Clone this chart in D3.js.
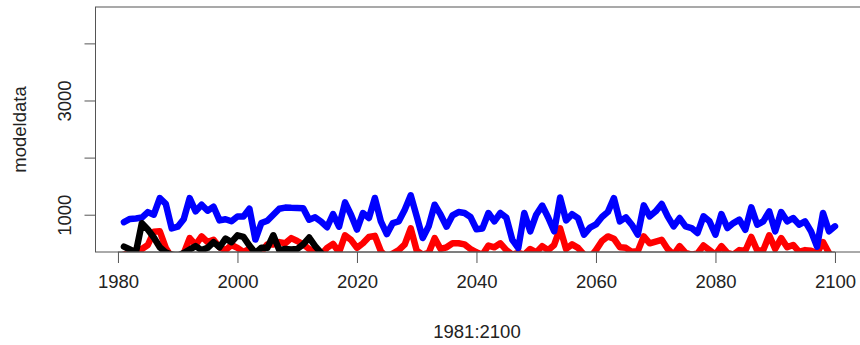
<!DOCTYPE html>
<html>
<head>
<meta charset="utf-8">
<script src="https://cdn.jsdelivr.net/npm/d3@7"></script>
<style>
  html, body { margin: 0; padding: 0; background: #fff; }
  svg { display: block; }
  text { font-family: "Liberation Sans", Arial, Helvetica, sans-serif; fill: #222; }
</style>
</head>
<body>
<svg id="chart" width="860" height="345"></svg>
<script>
// ---- data ----
const yearsStart = 1981, yearsEnd = 2100;
const years = d3.range(yearsStart, yearsEnd + 1);

const blueValues = [
  870, 925, 935, 950, 1045, 1000, 1290, 1190, 760, 790,
  920, 1290, 1060, 1175, 1070, 1140, 900, 920, 885, 970,
  970, 1105, 565, 855, 895, 1000, 1105, 1125, 1120, 1118,
  1115, 913, 954, 880, 780, 1012, 790, 1215, 1000, 740,
  1030, 942, 1293, 884, 660, 854, 884, 1088, 1339, 971,
  592, 796, 1175, 1000, 790, 990, 1047, 1030, 960, 745,
  760, 1030, 884, 1030, 950, 560, 417, 1030, 709, 1000,
  1160, 950, 709, 1300, 900, 1010, 940, 650, 775, 830,
  960, 1050, 1290, 884, 954, 825, 650, 1164, 971, 1059,
  1187, 971, 796, 942, 796, 767, 680, 971, 884, 650,
  1012, 767, 854, 913, 737, 1129, 825, 884, 1059, 709,
  1047, 884, 942, 825, 884, 709, 440, 1030, 709, 796
];

const redValues = [
  300, 330, 380, 400, 470, 700, 710, 420, 250, 200,
  320, 590, 470, 620, 520, 560, 430, 380, 470, 420,
  350, 400, 320, 350, 480, 480, 520, 500, 590, 540,
  480, 400, 330, 300, 420, 490, 340, 640, 560, 420,
  500, 610, 630, 360, 250, 320, 380, 480, 760, 370,
  300, 330, 590, 400, 430, 500, 500, 480, 400, 340,
  300, 460, 430, 500, 380, 300, 330, 300, 400, 340,
  450, 380, 470, 760, 400, 480, 420, 300, 250, 380,
  540, 620, 580, 430, 420, 350, 360, 620, 500, 530,
  560, 400, 300, 450, 330, 300, 320, 460, 380, 300,
  450, 330, 300, 380, 370, 610, 370, 380, 640, 400,
  590, 430, 470, 350, 380, 370, 330, 520, 330, 200
];

const blackYears = d3.range(1981, 2015);
const blackValues = [
  440, 390, 340, 850, 740, 600, 430, 340, 300, 280,
  330, 390, 450, 380, 420, 520, 430, 580, 520, 640,
  610, 460, 330, 420, 420, 640, 380, 400, 390, 400,
  480, 600, 450, 330
];

const xTicks = [1980, 2000, 2020, 2040, 2060, 2080, 2100];
const yTicks = [1000, 2000, 3000, 4000];
const yTickLabels = {1000: "1000", 3000: "3000"};
const xTitle = "1981:2100";
const yTitle = "modeldata";

// ---- layout ----
const svg = d3.select("#chart");
const mLeft = 95.5, mRight = 863.4, mTop = 7, mBottom = 252;
const fontSize = 18.5;

const x = d3.scaleLinear().domain([1976.24, 2104.76]).range([mLeft, mRight]);
const y = d3.scaleLinear().domain([347, 4637]).range([mBottom, mTop]);

svg.append("defs").append("clipPath").attr("id", "plotclip")
  .append("rect").attr("x", mLeft).attr("y", mTop)
  .attr("width", mRight - mLeft).attr("height", mBottom - mTop);

const plot = svg.append("g").attr("clip-path", "url(#plotclip)");

const line = d3.line().x(d => x(d[0])).y(d => y(d[1]));

function drawSeries(xs, vs, color) {
  plot.append("path")
    .datum(xs.map((yr, i) => [yr, vs[i]]))
    .attr("d", line)
    .attr("fill", "none")
    .attr("stroke", color)
    .attr("stroke-width", 6.5)
    .attr("stroke-linejoin", "round")
    .attr("stroke-linecap", "round");
}

drawSeries(years, redValues, "#ff0000");
drawSeries(years, blueValues, "#0000ff");
drawSeries(blackYears, blackValues, "#000000");

// box
svg.append("rect")
  .attr("x", mLeft).attr("y", mTop)
  .attr("width", mRight - mLeft).attr("height", mBottom - mTop)
  .attr("fill", "none").attr("stroke", "#555").attr("stroke-width", 1);

// x axis
const xAxis = d3.axisBottom(x).tickValues(xTicks).tickSize(11).tickPadding(12)
  .tickFormat(d3.format("d"));
const gx = svg.append("g").attr("transform", `translate(0,${mBottom})`).call(xAxis);
gx.select(".domain").attr("d", `M${x(xTicks[0])},0H${x(xTicks[xTicks.length-1])}`)
  .attr("stroke", "#555");
gx.selectAll(".tick line").attr("stroke", "#555");
gx.selectAll(".tick text").attr("font-size", fontSize)
  .attr("font-family", "Liberation Sans, Arial, sans-serif").attr("fill", "#222");

// y axis
const yAxis = d3.axisLeft(y).tickValues(yTicks).tickSize(11)
  .tickFormat(d => yTickLabels[d] || "");
const gy = svg.append("g").attr("transform", `translate(${mLeft},0)`).call(yAxis);
gy.select(".domain").attr("d", `M0,${y(yTicks[0])}V${y(yTicks[yTicks.length-1])}`)
  .attr("stroke", "#555");
gy.selectAll(".tick line").attr("stroke", "#555");
gy.selectAll(".tick text")
  .attr("font-size", fontSize)
  .attr("font-family", "Liberation Sans, Arial, sans-serif").attr("fill", "#222")
  .attr("text-anchor", "middle")
  .attr("x", null).attr("dy", null)
  .attr("transform", `translate(${70.5 - mLeft},0) rotate(-90)`);

// titles
svg.append("text")
  .attr("x", (x(xTicks[0]) + x(xTicks[xTicks.length-1])) / 2 + 0.5)
  .attr("y", 338)
  .attr("text-anchor", "middle")
  .attr("font-size", fontSize)
  .text(xTitle);

svg.append("text")
  .attr("transform", `translate(25.5,${(mTop + mBottom) / 2}) rotate(-90)`)
  .attr("text-anchor", "middle")
  .attr("font-size", fontSize)
  .text(yTitle);
</script>
</body>
</html>
